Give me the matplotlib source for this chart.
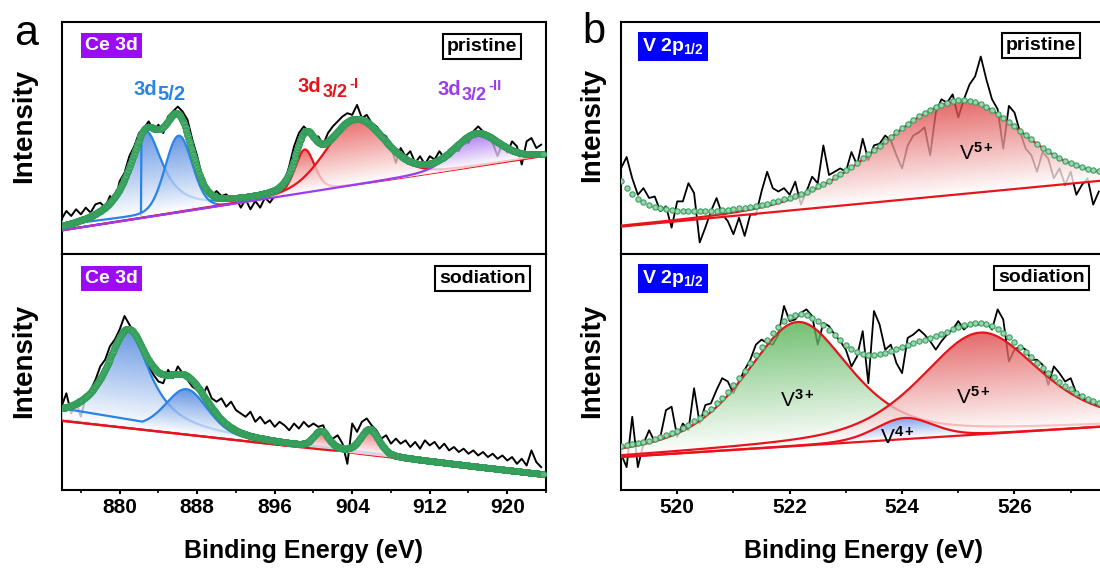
"""Ce 3d / V 2p1/2 XPS fits, pristine vs sodiation (two columns, two stacked panels each)."""

import numpy as np
import matplotlib

matplotlib.use("Agg")
import matplotlib.pyplot as plt
import matplotlib.colors as mcolors
from matplotlib.patches import Polygon

plt.rcParams.update({
    "font.family": ["Liberation Sans", "DejaVu Sans"],
    "font.weight": "bold",
    "mathtext.fontset": "custom",
    "mathtext.rm": "Liberation Sans",
    "mathtext.bf": "Liberation Sans:bold",
    "mathtext.it": "Liberation Sans:italic",
    "axes.linewidth": 1.5,
})

# ---------------------------------------------------------------- data
CE_EV_RANGE = [874.05, 923.74]
V_EV_RANGE = [519.0, 527.61]
CE_RAW_START, CE_RAW_STEP = 874.0, 0.5
V_RAW_START, V_RAW_STEP = 519.0, 0.1

# Ce 3d, pristine (arb. units)
CE_PRI_RAW = [
    17.1, 26.0, 20.6, 27.8, 22.4, 29.6, 24.2, 33.2, 35.0, 29.6,
    42.2, 35.0, 58.3, 67.3, 85.3, 96.0, 110.4, 115.8, 123.0, 112.2,
    119.4, 110.4, 128.4, 133.7, 139.1, 133.7, 124.8, 103.2, 85.3, 63.7,
    49.4, 42.2, 47.6, 42.2, 44.0, 38.6, 40.4, 29.6, 38.6, 27.8,
    36.8, 29.6, 40.4, 35.0, 42.2, 45.8, 56.5, 74.5, 96.0, 110.4,
    117.6, 112.2, 103.2, 106.8, 97.8, 110.4, 117.6, 123.0, 128.4, 131.9,
    130.1, 140.9, 126.6, 130.1, 121.2, 117.6, 110.4, 106.8, 96.0, 78.1,
    94.2, 85.3, 90.7, 78.1, 85.3, 76.3, 85.3, 81.7, 90.7, 83.5,
    88.9, 94.2, 90.7, 103.2, 99.6, 112.2, 117.6, 112.2, 106.8, 99.6,
    85.3, 99.6, 88.9, 101.4, 96.0, 76.3, 101.4, 105.0, 94.2, 97.8,
]
CE_PRI_BG = [5.0, 85.5]                 # linear background at CE_EV_RANGE ends
CE_PRI_BLUE_BG_EV = [874.05, 891.3]     # 3d5/2 sub-background
CE_PRI_BLUE_BG = [10.8, 32.5]
CE_PRI_CENTER = [882.67, 886.09, 899.1, 904.3, 916.8]
CE_PRI_HEIGHT = [91.0, 81.6, 47.0, 70.0, 34.6]
CE_PRI_FWHM = [4.2, 3.3, 2.4, 7.2, 5.5]
CE_PRI_ETA = [0.9, 0.1, 0.3, 0.2, 0.3]
CE_PRI_KIND = ["3d5/2", "3d5/2", "3d3/2-I", "3d3/2-I", "3d3/2-II"]
CE_PRI_CUT = 882.2                      # first 3d5/2 line starts here

# Ce 3d, sodiation
CE_SOD_RAW = [
    82.7, 96.0, 76.0, 87.7, 72.7, 92.7, 99.3, 109.3, 122.7, 129.3,
    142.7, 149.3, 159.3, 172.7, 164.3, 156.0, 142.7, 132.7, 122.7, 114.3,
    107.7, 106.0, 119.3, 111.0, 122.7, 116.0, 109.3, 102.7, 99.3, 92.7,
    102.7, 91.0, 87.7, 91.0, 82.7, 87.7, 79.3, 76.0, 72.7, 77.7,
    67.7, 72.7, 66.0, 69.3, 62.7, 67.7, 64.3, 59.3, 66.0, 61.0,
    67.7, 62.7, 66.0, 62.7, 64.3, 52.7, 51.0, 54.3, 46.0, 26.0,
    66.0, 57.7, 67.7, 71.0, 64.3, 59.3, 51.0, 54.3, 46.0, 51.0,
    46.0, 49.3, 42.7, 47.7, 41.0, 49.3, 44.3, 47.7, 41.0, 46.0,
    39.3, 42.7, 37.7, 41.0, 36.0, 39.3, 34.3, 37.7, 32.7, 36.0,
    31.0, 34.3, 29.3, 32.7, 26.0, 31.0, 24.3, 39.3, 27.7, 22.7,
]
CE_SOD_BG = [68.7, 15.3]
CE_SOD_BLUE_BG = [69.8, 16.8]
CE_SOD_CENTER = [880.85, 886.9, 900.8, 905.8]
CE_SOD_HEIGHT = [96.0, 44.0, 16.7, 24.7]
CE_SOD_FWHM = [5.4, 5.2, 1.8, 2.2]
CE_SOD_ETA = [0.9, 0.3, 0.3, 0.3]
CE_SOD_KIND = ["3d5/2", "3d5/2", "3d3/2-I", "3d3/2-I"]
CE_SOD_LEAD = [874.05, 81.1]            # start of the second 3d5/2 line
CE_SOD_CUT = 882.3

# V 2p1/2, pristine
V_PRI_RAW = [
    86.7, 98.3, 76.7, 60.0, 66.7, 56.7, 58.3, 43.3, 48.3, 26.7,
    53.3, 53.3, 71.7, 61.7, 11.7, 26.7, 43.3, 56.7, 40.0, 33.3,
    20.0, 36.7, 18.3, 40.0, 40.0, 63.3, 83.3, 66.7, 63.3, 66.7,
    60.0, 73.3, 50.0, 63.3, 78.3, 71.7, 110.0, 80.0, 83.3, 86.7,
    83.3, 103.3, 90.0, 116.7, 95.0, 110.0, 111.7, 120.0, 115.0, 100.0,
    86.7, 110.0, 120.0, 123.3, 128.3, 100.0, 143.3, 156.7, 153.3, 161.7,
    138.3, 156.7, 171.7, 180.0, 200.0, 176.7, 156.7, 146.7, 106.7, 150.0,
    143.3, 123.3, 106.7, 100.0, 83.3, 103.3, 96.7, 76.7, 86.7, 70.0,
    83.3, 60.0, 70.0, 76.7, 50.0, 63.3,
]
V_PRI_BG_EV = [519.0, 527.5]
V_PRI_BG = [27.7, 74.0]
V_PRI_CENTER = [525.02]
V_PRI_HEIGHT = [94.6]
V_PRI_FWHM = [(3.3, 2.6)]
V_PRI_ETA = [0.15]
V_PRI_KIND = ["V5+"]
V_PRI_TAIL = [518.5, 91.0, 1.0, 1.0]    # 2p3/2 tail, only in the envelope

# V 2p1/2, sodiation
V_SOD_RAW = [
    36.0, 22.7, 72.7, 22.7, 46.0, 59.3, 47.7, 52.7, 79.3, 82.7,
    52.7, 66.0, 59.3, 101.0, 66.0, 84.3, 86.0, 99.3, 111.0, 107.7,
    96.0, 107.7, 119.3, 129.3, 144.3, 149.3, 146.0, 144.3, 154.3, 182.7,
    167.7, 169.3, 176.0, 179.3, 172.7, 144.3, 166.0, 162.7, 154.3, 147.7,
    139.3, 122.7, 132.7, 157.7, 106.0, 177.7, 164.3, 139.3, 144.3, 126.0,
    116.0, 151.0, 154.3, 159.3, 154.3, 147.7, 139.3, 147.7, 154.3, 159.3,
    167.7, 159.3, 164.3, 164.3, 164.3, 166.0, 159.3, 179.3, 169.3, 127.7,
    139.3, 142.7, 139.3, 129.3, 129.3, 124.3, 104.3, 122.7, 116.0, 107.7,
    111.0, 96.0, 92.7, 87.7, 86.0, 82.7,
]
V_SOD_BG_EV = [519.0, 527.5]
V_SOD_BG = [32.7, 62.7]
V_SOD_CENTER = [522.14, 525.39, 524.04]
V_SOD_HEIGHT = [123.0, 101.0, 21.0]
V_SOD_FWHM = [2.25, 2.5, 1.2]
V_SOD_ETA = [0.6, 0.5, 0.2]
V_SOD_KIND = ["V3+", "V5+", "V4+"]

# ---------------------------------------------------------------- style
RED = "#e8141c"
BLUE = "#2a83e6"
PURPLE = "#9a3cf0"
KIND_STYLE = {  # line colour, fill colour
    "3d5/2": (BLUE, "#3a78dc"),
    "3d3/2-I": (RED, "#e64646"),
    "3d3/2-II": (PURPLE, "#9a5aee"),
    "V3+": (RED, "#4aae4a"),
    "V5+": (RED, "#de4040"),
    "V4+": (RED, "#5a8ff0"),
}
GREEN_FACE, GREEN_EDGE = "#58b478", "#2e9a56"

W, H = 1100, 570
fig = plt.figure(figsize=(W / 100, H / 100), dpi=100)


def axes_px(left, top, right, bottom):
    return fig.add_axes([left / W, 1 - bottom / H, (right - left) / W, (bottom - top) / H])


def ftext(x, y, s, **kw):
    return fig.text(x / W, 1 - y / H, s, **kw)


def line_through(x, xs, ys):
    return ys[0] + (ys[1] - ys[0]) * (x - xs[0]) / (xs[1] - xs[0])


def profile(x, c, h, w, eta):
    lo, hi = (w, w) if np.isscalar(w) else w
    fw = np.where(x < c, lo, hi)
    r2 = ((x - c) / fw) ** 2
    return h * (eta / (1 + 4 * r2) + (1 - eta) * np.exp(-4 * np.log(2) * r2))


def gradient_fill(ax, x, base, comp, color, z, alpha=0.78):
    keep = comp > comp.max() * 0.004
    xs, bs, ts = x[keep], base[keep], (base + comp)[keep]
    verts = np.column_stack([np.r_[xs, xs[::-1]], np.r_[ts, bs[::-1]]])
    clip = Polygon(verts, closed=True, fc="none", ec="none")
    ax.add_patch(clip)
    y0, y1 = bs.min(), ts.max()
    gxx, gyy = np.meshgrid(np.linspace(xs[0], xs[-1], 400), np.linspace(y0, y1, 300))
    t = np.clip((gyy - np.interp(gxx, xs, bs)) / comp.max(), 0, 1)
    rgb = np.array(mcolors.to_rgb(color))
    img = np.empty(gxx.shape + (4,))
    img[..., :3] = 1 - t[..., None] * (1 - rgb)
    img[..., 3] = alpha
    im = ax.imshow(img, extent=(xs[0], xs[-1], y0, y1), origin="lower", aspect="auto",
                   interpolation="bilinear", zorder=z)
    im.set_clip_path(clip)


def component(ax, x, base, comp, kind, z, lead=None, lw=1.6):
    line_c, fill_c = KIND_STYLE[kind]
    gradient_fill(ax, x, base, comp, fill_c, z)
    lx, ly = x, base + comp
    if lead is not None:
        cut, (x0, y0) = lead
        keep = x >= cut
        lx, ly = np.r_[x0, lx[keep]], np.r_[y0, ly[keep]]
    ax.plot(lx, ly, color=line_c, lw=lw, zorder=z + 1, solid_capstyle="butt")


def style_axes(ax, xlim, ylim, major, minor, bottom_labels):
    ax.set_xlim(*xlim)
    ax.set_ylim(*ylim)
    ax.set_yticks([])
    ax.set_xticks(major)
    ax.set_xticks(minor, minor=True)
    ax.tick_params(axis="x", which="major", direction="out", length=3, width=1.5,
                   labelsize=15, pad=3)
    ax.tick_params(axis="x", which="minor", direction="out", length=2, width=1.2)
    if not bottom_labels:
        ax.tick_params(axis="x", which="both", bottom=False, labelbottom=False)


ax_a1 = axes_px(62, 22, 546, 254)
ax_a2 = axes_px(62, 254, 546, 490)
ax_b1 = axes_px(621, 22, 1105, 254)
ax_b2 = axes_px(621, 254, 1105, 490)

ce_x = np.linspace(CE_EV_RANGE[0], CE_EV_RANGE[1], 995)
v_x = np.linspace(V_EV_RANGE[0], V_EV_RANGE[1], 862)

# ---- a, pristine
ax = ax_a1
raw = np.array(CE_PRI_RAW)
ax.plot(CE_RAW_START + CE_RAW_STEP * np.arange(raw.size), raw, color="black", lw=1.4, zorder=2)
bg = line_through(ce_x, CE_EV_RANGE, CE_PRI_BG)
blue_win = ce_x <= CE_PRI_BLUE_BG_EV[1]
bx = ce_x[blue_win]
bbg = line_through(bx, CE_PRI_BLUE_BG_EV, CE_PRI_BLUE_BG)
env = bg.copy()
z = 3
for i, kind in enumerate(CE_PRI_KIND):
    p = profile(ce_x, CE_PRI_CENTER[i], CE_PRI_HEIGHT[i], CE_PRI_FWHM[i], CE_PRI_ETA[i])
    env += p
    if kind == "3d5/2":
        lead = (CE_PRI_CUT, (CE_PRI_CUT, line_through(CE_PRI_CUT, CE_PRI_BLUE_BG_EV, CE_PRI_BLUE_BG))) if i == 0 else None
        component(ax, bx, bbg, p[blue_win], kind, z, lead=lead)
    else:
        component(ax, ce_x, bg, p, kind, z)
    z += 2
ax.plot(ce_x, env, ls="none", marker="o", ms=4.4, mfc=GREEN_FACE, mec=GREEN_EDGE, mew=0.5, zorder=20)
style_axes(ax, CE_EV_RANGE, (-20.6, 230.7), range(880, 924, 8), range(876, 925, 8), False)

# ---- a, sodiation
ax = ax_a2
raw = np.array(CE_SOD_RAW)
ax.plot(CE_RAW_START + CE_RAW_STEP * np.arange(raw.size), raw, color="black", lw=1.4, zorder=2)
bg = line_through(ce_x, CE_EV_RANGE, CE_SOD_BG)
bbg = line_through(ce_x, CE_EV_RANGE, CE_SOD_BLUE_BG)
ax.plot(ce_x, bbg, color=BLUE, lw=1.6, zorder=2.5)
env = bg.copy()
z = 3
for i, kind in enumerate(CE_SOD_KIND):
    p = profile(ce_x, CE_SOD_CENTER[i], CE_SOD_HEIGHT[i], CE_SOD_FWHM[i], CE_SOD_ETA[i])
    env += p
    if kind == "3d5/2":
        lead = (CE_SOD_CUT, tuple(CE_SOD_LEAD)) if i == 1 else None
        component(ax, ce_x, bbg, p, kind, z, lead=lead)
    else:
        component(ax, ce_x, bg, p, kind, z)
    z += 2
ax.plot(ce_x, env, ls="none", marker="o", ms=4.4, mfc=GREEN_FACE, mec=GREEN_EDGE, mew=0.5, zorder=20)
style_axes(ax, CE_EV_RANGE, (0, 234.3), range(880, 924, 8), range(876, 925, 8), True)

# ---- b, pristine
ax = ax_b1
raw = np.array(V_PRI_RAW)
ax.plot(V_RAW_START + V_RAW_STEP * np.arange(raw.size), raw, color="black", lw=1.3, zorder=2)
bg = line_through(v_x, V_PRI_BG_EV, V_PRI_BG)
env = bg + profile(v_x, *V_PRI_TAIL)
z = 3
for i, kind in enumerate(V_PRI_KIND):
    p = profile(v_x, V_PRI_CENTER[i], V_PRI_HEIGHT[i], V_PRI_FWHM[i], V_PRI_ETA[i])
    env += p
    component(ax, v_x, bg, p, kind, z)
    z += 2
ax.plot(v_x, bg, color=RED, lw=1.6, zorder=15)
ax.plot(v_x[::10], env[::10], ls="none", marker="o", ms=3.8, mfc="#9ad6ad", mec="#3a9e62",
        mew=0.8, zorder=20)
style_axes(ax, V_EV_RANGE, (0, 235), range(520, 528, 2), range(521, 528, 2), False)

# ---- b, sodiation
ax = ax_b2
raw = np.array(V_SOD_RAW)
ax.plot(V_RAW_START + V_RAW_STEP * np.arange(raw.size), raw, color="black", lw=1.3, zorder=2)
bg = line_through(v_x, V_SOD_BG_EV, V_SOD_BG)
env = bg.copy()
z = 3
for i, kind in enumerate(V_SOD_KIND):
    p = profile(v_x, V_SOD_CENTER[i], V_SOD_HEIGHT[i], V_SOD_FWHM[i], V_SOD_ETA[i])
    env += p
    component(ax, v_x, bg, p, kind, z)
    z += 2
ax.plot(v_x, bg, color=RED, lw=1.6, zorder=15)
ax.plot(v_x[::10], env[::10], ls="none", marker="o", ms=3.8, mfc="#9ad6ad", mec="#3a9e62",
        mew=0.8, zorder=20)
style_axes(ax, V_EV_RANGE, (0, 234.3), range(520, 528, 2), range(521, 528, 2), True)

# ---------------------------------------------------------------- text
for x, y in [(24.2, 125.7), (24.2, 360.6), (592.2, 124.8), (592.2, 360.6)]:
    ftext(x, y, "Intensity", rotation=90, ha="center", va="center", fontsize=20)
for x in (304, 863):
    ftext(x, 551, "Binding Energy (eV)", ha="center", va="center", fontsize=18)
ftext(14, 45, "a", fontsize=31, weight="normal", va="baseline")
ftext(582.7, 43.4, "b", fontsize=30, weight="normal", va="baseline")

tag = dict(ha="center", va="center", fontsize=14, color="white")
ftext(111.5, 45.7, "Ce 3d", bbox=dict(boxstyle="square,pad=0.2", fc="#9b0cf5", ec="none"), **tag)
ftext(111.3, 278.8, "Ce 3d", bbox=dict(boxstyle="square,pad=0.2", fc="#9b0cf5", ec="none"), **tag)
ftext(673, 46.3, r"V 2p$_\mathbf{1/2}$", bbox=dict(boxstyle="square,pad=0.2", fc="#0000ff", ec="none"), **tag)
ftext(673, 278.8, r"V 2p$_\mathbf{1/2}$", bbox=dict(boxstyle="square,pad=0.2", fc="#0000ff", ec="none"), **tag)

state = dict(ha="center", va="center", fontsize=14, color="black")
box = dict(boxstyle="square,pad=0.2", fc="white", ec="black", lw=1.5)
ftext(482, 46.2, "pristine", bbox=box, **state)
ftext(482.6, 278.8, "sodiation", bbox=box, **state)
ftext(1040.7, 45.7, "pristine", bbox=box, **state)
ftext(1041.4, 278, "sodiation", bbox=box, **state)

lab = dict(fontsize=14.5, va="baseline")
sub = dict(fontsize=13, va="baseline")
sup = dict(fontsize=10.5, va="baseline")
ftext(133, 95, "3d", color=BLUE, **lab)
ftext(157.5, 100.5, "5/2", color=BLUE, **lab)
ftext(298, 91.6, "3d", color=RED, **lab)
ftext(322.5, 96.6, "3/2", color=RED, **sub)
ftext(349.5, 88.3, "-I", color=RED, **sup)
ftext(438, 94.9, "3d", color=PURPLE, **lab)
ftext(461.5, 99.9, "3/2", color=PURPLE, **sub)
ftext(488.5, 89.9, "-II", color=PURPLE, **sup)

vlab = dict(fontsize=15, weight="normal", va="baseline", color="black")
ftext(959, 160.2, r"V$^{\mathbf{5+}}$", **vlab)
ftext(780, 406.7, r"V$^{\mathbf{3+}}$", **vlab)
ftext(956, 403.4, r"V$^{\mathbf{5+}}$", **vlab)
ftext(880, 443.7, r"V$^{\mathbf{4+}}$", **vlab)

fig.savefig("out.png", dpi=100)
